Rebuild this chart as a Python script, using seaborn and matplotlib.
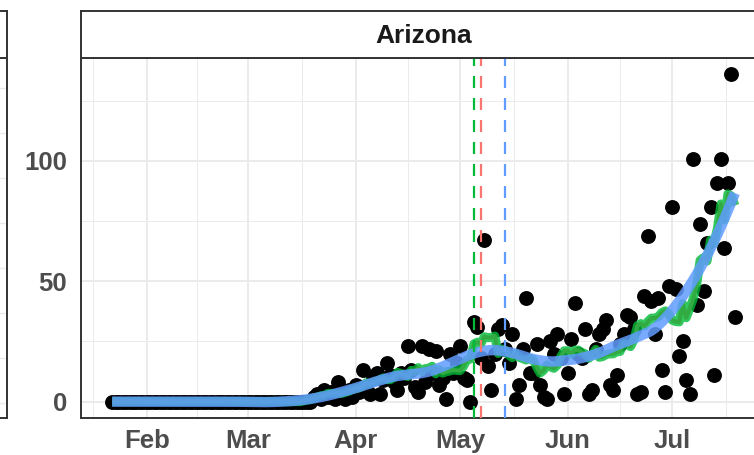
import numpy as np
import pandas as pd
import matplotlib
matplotlib.use("Agg")
import matplotlib.pyplot as plt
import matplotlib.dates as mdates
import seaborn as sns

# 01- Data: daily new deaths in Arizona, 22 Jan - 19 Jul 2020
state = "Arizona"
start_date = "2020-01-22"

deaths_jan_mar = [0, 0, 0, 0, 0, 0, 0, 0, 0, 0,
                  0, 0, 0, 0, 0, 0, 0, 0, 0, 0,
                  0, 0, 0, 0, 0, 0, 0, 0, 0, 0,
                  0, 0, 0, 0, 0, 0, 0, 0, 0, 0,
                  0, 0, 0, 0, 0, 0, 0, 0, 0, 0,
                  0, 0, 0, 0, 0, 0, 0, 0]          # 22 Jan - 19 Mar
deaths_mar = [2, 3, 1, 5, 2, 4, 1, 8, 3, 1, 5, 2]   # 20 Mar - 31 Mar
deaths_apr = [7, 4, 13, 6, 3, 10, 12, 3, 9, 16,
              11, 8, 5, 12, 10, 23, 13, 6, 4, 23,
              8, 22, 12, 21, 7, 10, 1, 20, 12, 16]
deaths_may = [23, 10, 9, 0, 33, 31, 18, 67, 15, 5,
              20, 30, 32, 22, 16, 28, 1, 7, 22, 43,
              12, 12, 24, 7, 2, 1, 25, 20, 28, 18, 3]
deaths_jun = [12, 26, 41, 20, 18, 30, 3, 5, 22, 28,
              30, 34, 7, 5, 11, 24, 28, 36, 35, 30,
              3, 4, 44, 69, 42, 28, 43, 13, 4, 48]
deaths_jul = [81, 47, 19, 25, 9, 3, 101, 40, 74, 46,
              66, 81, 11, 91, 101, 64, 91, 136, 35]

# dates of the three dashed markers and their colours
event_dates = ["2020-05-05", "2020-05-07", "2020-05-14"]
event_colors = ["#00BA38", "#F8766D", "#619CFF"]

month_breaks = ["2020-01-01", "2020-02-01", "2020-03-01", "2020-04-01",
                "2020-05-01", "2020-06-01", "2020-07-01", "2020-08-01"]
month_labels = ["", "Feb", "Mar", "Apr", "May", "Jun", "Jul", ""]
y_breaks = [0, 50, 100]


def loess(x, y, span=0.3):
    # local quadratic regression with tricube weights
    n = len(x)
    k = int(np.ceil(span * n))
    fit = np.empty(n)
    for i, x0 in enumerate(x):
        dist = np.abs(x - x0)
        h = np.sort(dist)[k - 1]
        w = np.clip(1 - (dist / h) ** 3, 0, None) ** 3
        A = np.vstack([np.ones(n), x - x0, (x - x0) ** 2]).T
        sw = np.sqrt(w)
        beta = np.linalg.lstsq(A * sw[:, None], y * sw, rcond=None)[0]
        fit[i] = beta[0]
    return fit


deaths = np.array(deaths_jan_mar + deaths_mar + deaths_apr + deaths_may
                  + deaths_jun + deaths_jul, dtype=float)
dates = pd.date_range(start_date, periods=len(deaths), freq="D")
df = pd.DataFrame({"date": dates, "deaths": deaths})
df["roll"] = df["deaths"].rolling(7, center=True, min_periods=1).mean()
df["smooth"] = loess(np.arange(len(deaths), dtype=float), deaths, span=0.3)

# 02- Theme
sns.set_theme(style="white")
plt.rcParams["font.family"] = ["Liberation Sans", "DejaVu Sans"]

W, H = 754, 455
fig = plt.figure(figsize=(W / 100, H / 100), dpi=100)
ax = fig.add_axes([81 / W, 1 - 418 / H, 685 / W, 360 / H])
strip = fig.add_axes([81 / W, 1 - 58 / H, 685 / W, 47 / H])
left = fig.add_axes([-600 / W, 1 - 418 / H, 607 / W, 360 / H])
left_strip = fig.add_axes([-600 / W, 1 - 58 / H, 607 / W, 47 / H])

border = "#333333"
grid_c = "#EBEBEB"

# 03- Main panel
sns.scatterplot(data=df, x="date", y="deaths", color="black", s=115,
                linewidth=0, ax=ax, zorder=2, legend=False)
sns.lineplot(data=df, x="date", y="roll", color="#F8766D", lw=3.0,
             estimator=None, sort=False, ax=ax, zorder=3,
             solid_capstyle="butt")
sns.lineplot(data=df, x="date", y="roll", color="#00BA38", lw=6.5, alpha=0.8,
             estimator=None, sort=False, ax=ax, zorder=4,
             solid_capstyle="butt")
sns.lineplot(data=df, x="date", y="smooth", color="#619CFF", lw=7.5, alpha=0.85,
             estimator=None, sort=False, ax=ax, zorder=5,
             solid_capstyle="butt")
for d, c in zip(event_dates, event_colors):
    ax.axvline(pd.Timestamp(d), color=c, lw=1.6, dashes=(5.4, 4.5), zorder=6)

brk = mdates.date2num(pd.to_datetime(month_breaks))
ax.set_xticks(brk)
ax.set_xticklabels(month_labels)
ax.set_xticks((brk[:-1] + brk[1:]) / 2, minor=True)
ax.set_yticks(y_breaks)
ax.set_yticks([(a + b) / 2 for a, b in zip(y_breaks, y_breaks[1:] + [150])], minor=True)

# limits last: set_xticks would otherwise widen them (ggplot-like 5% expansion)
xnum = mdates.date2num(df["date"])
xr = xnum.max() - xnum.min()
ax.set_xlim(xnum.min() - 0.05 * xr, xnum.max() + 0.05 * xr)
yr = deaths.max() - 0
ax.set_ylim(0 - 0.05 * yr, deaths.max() + 0.05 * yr)

ax.grid(which="major", color=grid_c, lw=1.4)
ax.grid(which="minor", color=grid_c, lw=0.7)
ax.set_axisbelow(True)
ax.set_xlabel("")
ax.set_ylabel("")
ax.tick_params(which="major", length=5, width=1.4, color=border,
               labelsize=18.5, labelcolor="#4D4D4D", pad=5)
ax.tick_params(axis="x", which="major", pad=3)
ax.tick_params(which="minor", length=0)
for lbl in ax.get_xticklabels() + ax.get_yticklabels():
    lbl.set_fontweight("bold")

for a in (ax, strip, left, left_strip):
    for sp in a.spines.values():
        sp.set_color(border)
        sp.set_linewidth(1.4)
        sp.set_visible(True)

# 04- Facet strip
strip.set_facecolor("white")
strip.set_xticks([])
strip.set_yticks([])
strip.text(0.5, 0.47, state, ha="center", va="center", fontsize=19,
           fontweight="bold", color="#1A1A1A", transform=strip.transAxes)

# 05- Neighbouring panel (only its right edge is visible)
left.set_ylim(-1 / 3, 23 / 3)
left.set_yticks(range(0, 8))
left.set_yticklabels([])
left.tick_params(length=0)
left.set_xticks([])
left.grid(axis="y", color=grid_c, lw=1.0)
left_strip.set_xticks([])
left_strip.set_yticks([])

fig.savefig("out.png", dpi=100)
